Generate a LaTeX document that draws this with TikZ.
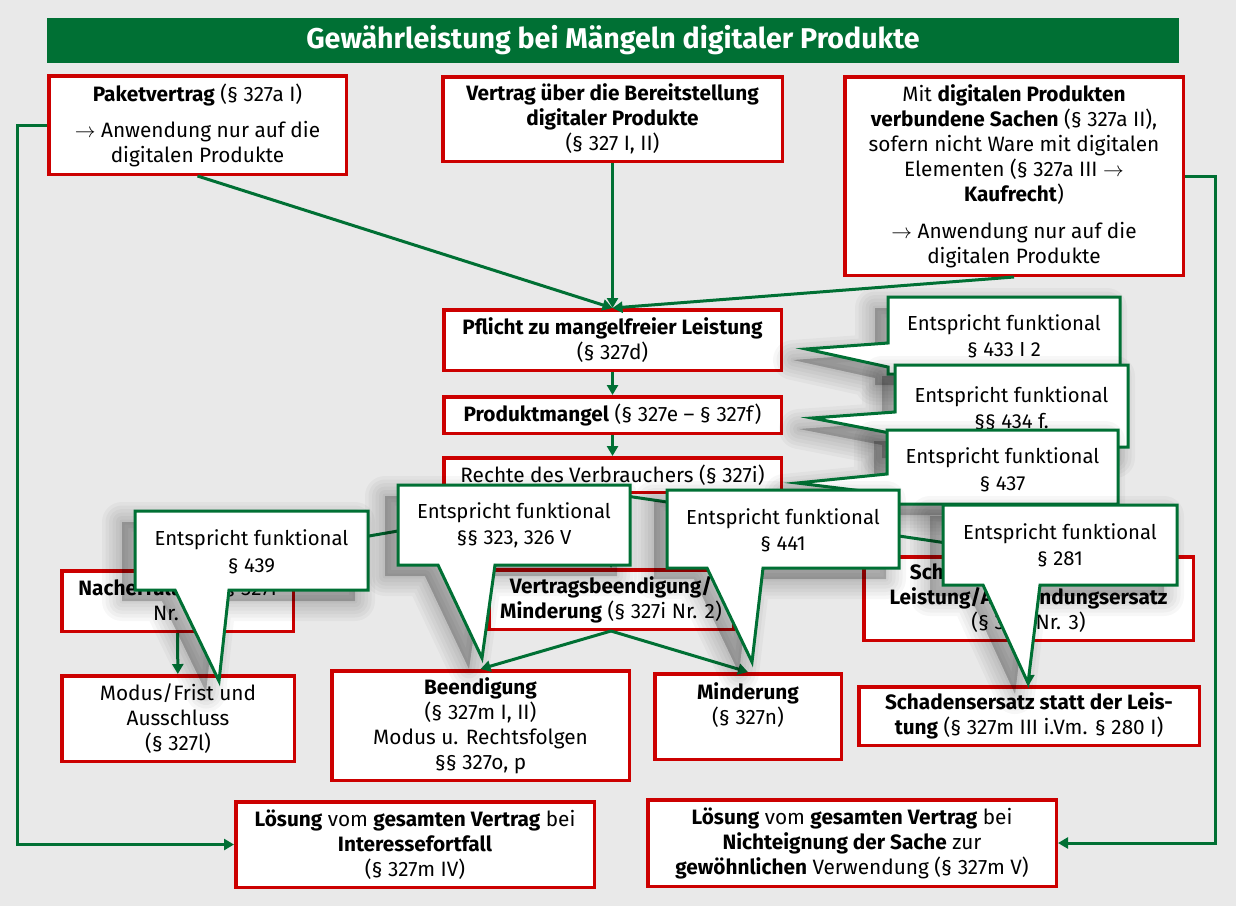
\documentclass[tikz,border=0pt]{standalone}
\usepackage{fontspec}
\setmainfont{Fira Sans}
\usetikzlibrary{positioning,arrows.meta}

\definecolor{boxred}{RGB}{204,0,0}
\definecolor{darkgreen}{RGB}{0,112,52}
\definecolor{paper}{RGB}{233,233,233}

\tikzset{
  box/.style={draw=boxred, line width=3.5pt, fill=white, align=center, inner sep=1pt,
    font=\fontsize{20.8}{25}\selectfont},
  haze/.style={preaction={draw=black, fill=black, draw opacity=0.03, fill opacity=0.04,
    line width=#1, line join=round, transform canvas={xshift=-13pt, yshift=-11pt}}},
  note/.style={draw=darkgreen, line width=3pt, fill=white, line join=miter,
    haze=40pt, haze=33pt, haze=26pt, haze=19pt, haze=12pt, haze=5pt},
  notetext/.style={align=center, font=\fontsize{20.3}{26.5}\selectfont},
  flow/.style={draw=darkgreen, line width=3pt, ->},
}

\begin{document}
\begin{tikzpicture}[x=1pt, y=-1pt, >={Triangle[length=10pt,width=11pt]}]

\fill[paper] (0,0) rectangle (1236,906);
\useasboundingbox (0,0) rectangle (1236,906);

% title
\node[fill=darkgreen, minimum width=1132pt, minimum height=45pt, inner sep=0pt,
  text=white, font=\bfseries\fontsize{28.6}{32}\selectfont] (title) at (613,40.5)
  {Gewährleistung bei Mängeln digitaler Produkte};

% top row
\node[box, minimum width=297.5pt, minimum height=98.5pt] (paket) at (197.5,125)
  {\textbf{Paketvertrag} (§ 327a I)\\[11pt]$\rightarrow$ Anwendung nur auf die\\digitalen Produkte};
\node[box, minimum width=339.5pt, minimum height=84.5pt] (vertrag) at (612.5,119)
  {\textbf{Vertrag über die Bereitstellung}\\\textbf{digitaler Produkte}\\(§ 327 I, II)};
\node[box, minimum width=338.5pt, minimum height=198.5pt] (mit) at (1014,176)
  {Mit \textbf{digitalen Produkten}\\\textbf{verbundene Sachen} (§ 327a II),\\sofern nicht Ware mit digitalen\\Elementen (§ 327a III $\rightarrow$\\\textbf{Kaufrecht})\\[12pt]$\rightarrow$ Anwendung nur auf die\\digitalen Produkte};

% middle column
\node[box, minimum width=337.5pt, minimum height=60.5pt] (pflicht) at (612.5,340)
  {\textbf{Pflicht zu mangelfreier Leistung}\\(§ 327d)};
\node[box, minimum width=337.5pt, minimum height=36.5pt] (produkt) at (612.5,415)
  {\textbf{Produktmangel} (§ 327e – § 327f)};
\node[box, minimum width=337.5pt, minimum height=34.5pt] (rechte) at (612.5,475)
  {Rechte des Verbrauchers (§ 327i)};

% rights
\node[box, minimum width=231.5pt, minimum height=60.5pt] (nach) at (177.5,601)
  {\textbf{Nacherfüllung} (§ 327i\\Nr. 1)};
\node[box, minimum width=232.5pt, minimum height=85.5pt] (modus) at (178,718.5)
  {Modus/Frist und\\Ausschluss\\(§ 327l)};
\node[box, minimum width=244.5pt, minimum height=59.5pt] (vb) at (611,599.5)
  {\textbf{Vertragsbeendigung/}\\\textbf{Minderung} (§ 327i Nr. 2)};
\node[box, minimum width=297.5pt, minimum height=109.5pt] (beend) at (480.5,725.5)
  {\textbf{Beendigung}\\(§ 327m I, II)\\Modus u. Rechtsfolgen\\§§ 327o, p};
\node[box, minimum width=186.5pt, minimum height=85.5pt] (minder) at (748,716.5)
  {\textbf{Minderung}\\(§ 327n)\\~};
\node[box, minimum width=329.5pt, minimum height=83.5pt] (sea) at (1028.5,598.5)
  {\textbf{Schadensersatz statt der}\\\textbf{Leistung/Aufwendungsersatz}\\(§ 327i Nr. 3)};
\node[box, minimum width=340.5pt, minimum height=58.5pt] (ses) at (1029,716)
  {\textbf{Schadensersatz statt der Leis-}\\\textbf{tung} (§ 327m III i.Vm. § 280 I)};

% bottom row
\node[box, minimum width=358.5pt, minimum height=85.5pt] (loesA) at (415,844.5)
  {\textbf{Lösung} vom \textbf{gesamten Vertrag} bei\\\textbf{Interessefortfall}\\(§ 327m IV)};
\node[box, minimum width=408.5pt, minimum height=86.5pt] (loesB) at (852,843)
  {\textbf{Lösung} vom \textbf{gesamten Vertrag} bei\\\textbf{Nichteignung der Sache} zur\\\textbf{gewöhnlichen} Verwendung (§ 327m V)};

% connectors
\draw[flow] (paket.south) -- (pflicht.north);
\draw[flow] (vertrag.south) -- (pflicht.north);
\draw[flow] (mit.south) -- (pflicht.north);
\draw[flow] (pflicht) -- (produkt);
\draw[flow] (produkt) -- (rechte);
\draw[flow] (rechte.south) -- (nach.north);
\draw[flow] (rechte.south) -- (vb.north);
\draw[flow] (rechte.south) -- (sea.north);
\draw[flow] (nach) -- (modus);
\draw[flow] (vb.south) -- (beend.north);
\draw[flow] (vb.south) -- (minder.north);
\draw[flow] (sea) -- (ses);
\draw[flow] (paket.west) -- ++(-30,0) |- (loesA.west);
\draw[flow] (mit.east) -- ++(30,0) |- (loesB.east);

% callouts
\filldraw[note] (888,297) -- (1120,297) -- (1120,374) -- (888,374) -- (888,367) -- (806,349) -- (888,343) -- cycle;
\node[notetext] (n433) at (1004,336.5) {Entspricht funktional\\§ 433 I 2};
\filldraw[note] (895,365) -- (1128,365) -- (1128,447) -- (895,447) -- (895,434) -- (812,418) -- (895,412) -- cycle;
\node[notetext] (n434) at (1011.5,408.5) {Entspricht funktional\\§§ 434 f.};
\filldraw[note] (887,430) -- (1118,430) -- (1118,504) -- (887,504) -- (887,494) -- (797,483) -- (887,474) -- cycle;
\node[notetext] (n437) at (1002.5,470) {Entspricht funktional\\§ 437};
\filldraw[note] (135,511) -- (368,511) -- (368,590) -- (229,590) -- (219,681) -- (175,590) -- (135,590) -- cycle;
\node[notetext] (n439) at (251.5,552) {Entspricht funktional\\§ 439};
\filldraw[note] (398,485) -- (630,485) -- (630,565) -- (495,565) -- (482,658) -- (438,565) -- (398,565) -- cycle;
\node[notetext] (n323) at (514,525.5) {Entspricht funktional\\§§ 323, 326 V};
\filldraw[note] (667,490) -- (899,490) -- (899,568) -- (763,568) -- (752,662) -- (707,568) -- (667,568) -- cycle;
\node[notetext] (n441) at (783,530.5) {Entspricht funktional\\§ 441};
\filldraw[note] (943,505) -- (1177,505) -- (1177,585) -- (1040,585) -- (1028,683) -- (983,585) -- (943,585) -- cycle;
\node[notetext] (n281) at (1060,545.5) {Entspricht funktional\\§ 281};

\end{tikzpicture}
\end{document}
